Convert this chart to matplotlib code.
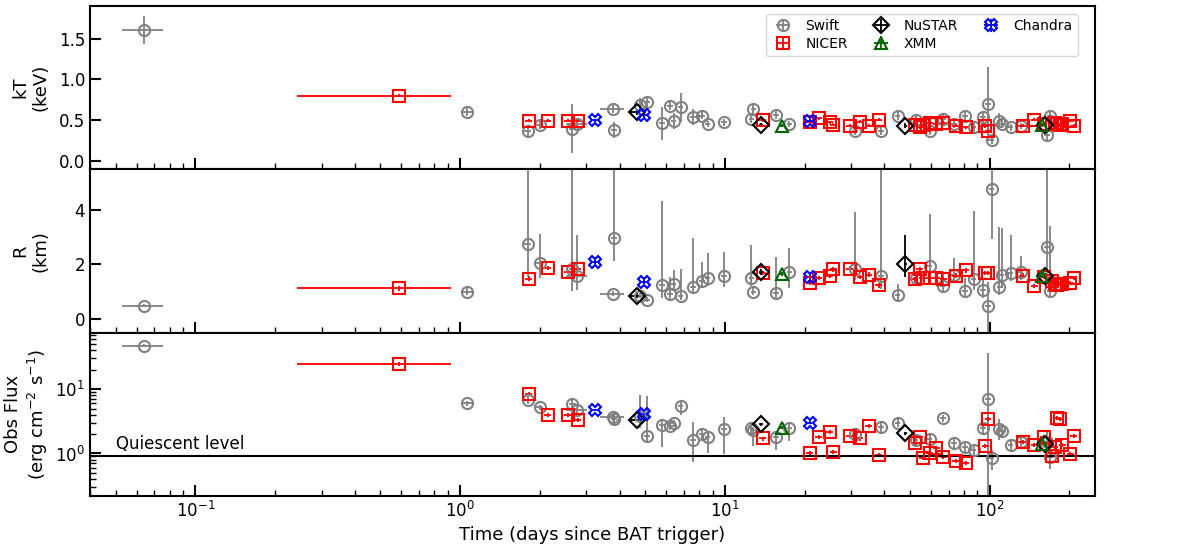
import numpy as np
import matplotlib
matplotlib.use("Agg")
import matplotlib.pyplot as plt

plt.rc('font', size=12)
plt.rc('axes', linewidth=1.5)

# ---- Swift (XRT) ----
sw_t = [0.064, 1.06, 1.80, 2.00, 2.65, 2.76, 3.77, 3.80, 4.79, 5.08, 5.80, 6.20, 6.40, 6.80, 7.60,
        8.20, 8.60, 9.90, 12.6, 12.8, 15.6, 17.5, 31.1, 38.9, 44.9, 52.5, 59.3, 66.5, 73.5, 81.0,
        87.0, 94.6, 99.0, 101.8, 109.0, 111.0, 120.0, 131.0, 164.5, 169.0]
sw_terr = [0.0113, 0.05, 0.06, 0.06, 0.08, 0.25, 0.40, 0.10, 0.12, 0.12, 0.15, 0.15, 0.15, 0.17, 0.2,
           0.2, 0.2, 0.25, 0.3, 0.3, 0.4, 0.4, 0.8, 1.0, 1.1, 1.3, 1.5, 1.7, 1.8, 2.0,
           2.2, 2.4, 2.5, 2.5, 2.7, 2.8, 3.0, 3.3, 4.0, 4.2]
sw_kt = [1.61, 0.605, 0.366, 0.443, 0.394, 0.455, 0.638, 0.385, 0.69, 0.72, 0.463, 0.678, 0.488, 0.659, 0.537,
         0.556, 0.455, 0.476, 0.516, 0.638, 0.568, 0.455, 0.366, 0.373, 0.556, 0.507, 0.373, 0.516, 0.45, 0.556,
         0.415, 0.537, 0.70, 0.263, 0.495, 0.455, 0.415, 0.43, 0.32, 0.556]
sw_kt_err = [0.17, 0.05, 0.06, 0.05, 0.30, 0.05, 0.05, 0.10, 0.08, 0.07, 0.20, 0.05, 0.10, 0.18, 0.10,
             0.04, 0.04, 0.04, 0.05, 0.05, 0.05, 0.04, 0.04, 0.05, 0.05, 0.05, 0.05, 0.05, 0.05, 0.05,
             0.06, 0.06, 0.45, 0.05, 0.10, 0.05, 0.04, 0.04, 0.06, 0.06]
sw_r = [0.49, 0.99, 2.74, 2.06, 1.82, 1.57, 0.93, 2.98, 0.86, 0.71, 1.24, 0.93, 1.30, 0.86, 1.16,
        1.39, 1.51, 1.57, 1.51, 0.99, 0.96, 1.72, 1.84, 1.59, 0.89, 1.50, 1.96, 1.20, 1.63, 1.02,
        1.48, 1.08, 0.46, 4.76, 1.18, 1.63, 1.69, 1.72, 2.65, 1.02]
sw_r_lo = [0.05, 0.10, 1.20, 0.55, 0.80, 0.50, 0.10, 0.86, 0.10, 0.10, 0.46, 0.20, 0.20, 0.15, 0.20,
           0.20, 0.30, 0.40, 0.30, 0.10, 0.20, 0.60, 0.40, 0.50, 0.20, 0.20, 0.50, 0.20, 0.30, 0.20,
           0.40, 0.30, 1.00, 1.84, 0.30, 0.50, 0.30, 0.30, 1.40, 0.20]
sw_r_hi = [0.05, 0.20, 3.00, 1.05, 4.00, 1.50, 0.10, 3.00, 0.10, 0.10, 3.10, 0.60, 0.50, 0.96, 1.80,
           0.70, 0.90, 0.90, 1.20, 0.15, 1.30, 0.90, 2.10, 4.00, 0.40, 0.20, 1.90, 0.50, 0.60, 0.50,
           2.50, 0.40, 0.90, 1.00, 2.20, 1.70, 1.40, 0.60, 3.00, 2.40]
sw_f = [47.5, 6.0, 6.8, 5.23, 5.9, 4.75, 3.65, 3.4, 3.8, 1.88, 2.77, 2.7, 2.94, 5.48, 1.61,
        1.98, 1.82, 2.37, 2.45, 2.3, 1.82, 2.45, 1.98, 2.6, 3.0, 1.6, 1.67, 3.52, 1.47, 1.27,
        1.15, 2.51, 6.98, 0.85, 2.4, 2.25, 1.35, 1.49, 1.52, 0.88]
sw_f_lo = [3.0, 0.6, 1.0, 0.5, 0.8, 0.5, 0.4, 0.5, 1.3, 0.3, 1.5, 0.4, 0.4, 1.5, 0.87,
           0.4, 0.8, 1.4, 0.5, 1.0, 0.7, 0.9, 0.4, 0.5, 0.4, 0.3, 0.3, 0.4, 0.3, 0.3,
           0.2, 0.4, 6.8, 0.3, 0.8, 0.4, 0.3, 0.3, 0.6, 0.3]
sw_f_hi = [3.0, 0.6, 1.0, 0.5, 0.8, 0.5, 0.4, 0.5, 4.3, 6.0, 0.5, 0.4, 0.4, 1.0, 1.5,
           0.4, 0.4, 1.3, 0.5, 0.3, 0.4, 0.6, 0.4, 0.5, 0.4, 0.3, 0.3, 0.4, 0.3, 0.3,
           0.2, 0.4, 29.0, 0.3, 1.0, 0.4, 0.3, 0.3, 0.6, 0.5]

# ---- NICER ----
ni_t = [0.588, 1.82, 2.14, 2.55, 2.79, 13.9, 20.9, 22.6, 24.9, 25.7, 29.6, 32.4, 35.0, 38.2, 52.3,
        54.5, 56.0, 59.3, 62.8, 66.8, 74.5, 81.5, 96.5, 98.7, 133.5, 147.5, 160.0, 172.0, 176.0, 180.0,
        184.0, 188.0, 202.0, 208.0]
ni_t_lo = [0.328] + [0.0] * 33
ni_t_hi = [0.322] + [0.0] * 33
ni_kt = [0.80, 0.495, 0.495, 0.495, 0.495, 0.50, 0.48, 0.524, 0.475, 0.446, 0.434, 0.483, 0.434, 0.507, 0.443,
         0.415, 0.44, 0.467, 0.455, 0.467, 0.434, 0.415, 0.427, 0.373, 0.434, 0.507, 0.46, 0.45, 0.47, 0.46,
         0.44, 0.45, 0.495, 0.434]
ni_r = [1.12, 1.48, 1.88, 1.73, 1.84, 1.69, 1.33, 1.51, 1.57, 1.82, 1.85, 1.53, 1.63, 1.23, 1.45,
        1.84, 1.51, 1.51, 1.51, 1.45, 1.59, 1.78, 1.69, 1.69, 1.59, 1.20, 1.55, 1.38, 1.30, 1.26,
        1.30, 1.28, 1.33, 1.51]
ni_f = [24.6, 8.35, 3.97, 3.97, 3.31, 1.71, 1.02, 1.78, 2.13, 1.06, 1.88, 1.71, 2.67, 0.94, 1.43,
        1.78, 0.85, 1.0, 1.2, 0.88, 0.76, 0.72, 1.30, 3.4, 1.52, 1.35, 1.82, 0.91, 1.27, 3.52,
        3.45, 1.35, 0.98, 1.86]

# ---- NuSTAR ----
nu_t = [4.67, 13.7, 48.1, 162.0]
nu_t_lo = [0.34, 0.2, 0.5, 1.5]
nu_t_hi = [0.05, 0.2, 0.5, 1.5]
nu_kt = [0.597, 0.443, 0.434, 0.443]
nu_r = [0.86, 1.72, 2.03, 1.59]
nu_r_lo = [0.10, 0.10, 0.48, 0.10]
nu_r_hi = [0.10, 0.10, 1.04, 0.10]
nu_f = [3.31, 2.84, 2.05, 1.38]

# ---- XMM ----
xm_t = [16.4, 158.0]
xm_kt = [0.434, 0.443]
xm_r = [1.66, 1.59]
xm_f = [2.51, 1.38]

# ---- Chandra ----
ch_t = [3.23, 4.96, 20.9]
ch_kt = [0.50, 0.565, 0.495]
ch_r = [2.10, 1.35, 1.53]
ch_f = [4.75, 4.07, 3.0]

quiescent = 0.91

fig, axs = plt.subplots(3, 1, sharex=True, figsize=(11.96, 5.49), dpi=100)
fig.subplots_adjust(left=0.0753, right=0.9155, top=0.989, bottom=0.097, hspace=0)

ms = 8
common = dict(mfc='none', ms=ms, mew=1.5, elinewidth=1.3, capsize=0, ls='none')

sw_x = np.array(sw_terr)
ni_x = [np.array(ni_t_lo) + 0.03 * np.array(ni_t), np.array(ni_t_hi) + 0.03 * np.array(ni_t)]
nu_x = [nu_t_lo, nu_t_hi]

def panel(ax, sw_y, sw_e, ni_y, ni_e, nu_y, nu_e, xm_y, xm_e, ch_y, ch_e):
    ax.errorbar(sw_t, sw_y, xerr=sw_x, yerr=sw_e, fmt='o', color='grey', label='Swift', **common)
    ax.errorbar(ni_t, ni_y, xerr=ni_x, yerr=ni_e, fmt='s', color='red', label='NICER', **common)
    ax.errorbar(nu_t, nu_y, xerr=nu_x, yerr=nu_e, fmt='D', color='black', label='NuSTAR', **common)
    ax.errorbar(xm_t, xm_y, xerr=np.array(xm_t) * 0.02, yerr=xm_e, fmt='^', color='darkgreen',
                label='XMM', **common)
    ax.errorbar(ch_t, ch_y, xerr=np.array(ch_t) * 0.02, yerr=ch_e, fmt='X', color='blue',
                label='Chandra', **common)

panel(axs[0], sw_kt, sw_kt_err, ni_kt, 0.02, nu_kt, 0.03, xm_kt, 0.02, ch_kt, 0.02)
panel(axs[1], sw_r, [sw_r_lo, sw_r_hi], ni_r, 0.08, nu_r, [nu_r_lo, nu_r_hi], xm_r, 0.08, ch_r, 0.08)
panel(axs[2], sw_f, [sw_f_lo, sw_f_hi], ni_f, np.array(ni_f) * 0.07, nu_f, np.array(nu_f) * 0.05,
      xm_f, np.array(xm_f) * 0.05, ch_f, np.array(ch_f) * 0.05)

axs[2].axhline(quiescent, color='black', lw=1.5)
axs[2].text(0.05, quiescent * 1.1, 'Quiescent level', fontsize=12, va='bottom')

axs[0].set_xscale('log')
axs[0].set_xlim(0.04, 250)
axs[0].set_ylim(-0.1, 1.9)
axs[0].set_yticks([0.0, 0.5, 1.0, 1.5])
axs[1].set_ylim(-0.5, 5.5)
axs[1].set_yticks([0, 2, 4])
axs[2].set_yscale('log')
axs[2].set_ylim(0.22, 76)

axs[0].set_ylabel('kT\n(keV)', fontsize=13)
axs[1].set_ylabel('R\n(km)', fontsize=13)
axs[2].set_ylabel('Obs Flux\n(erg cm$^{-2}$ s$^{-1}$)', fontsize=13)
axs[2].set_xlabel('Time (days since BAT trigger)', fontsize=13)
fig.align_ylabels(axs)

for ax in axs:
    ax.tick_params(which='both', direction='in', labelsize=12)
    ax.tick_params(which='major', length=8, width=1.5)
    ax.tick_params(which='minor', length=4, width=1.0)

axs[0].legend(loc='upper right', ncol=3, fontsize=10, columnspacing=1.6, labelspacing=0.25,
              handlelength=1.6, bbox_to_anchor=(0.99, 0.995))

plt.savefig('out.png', dpi=100)
